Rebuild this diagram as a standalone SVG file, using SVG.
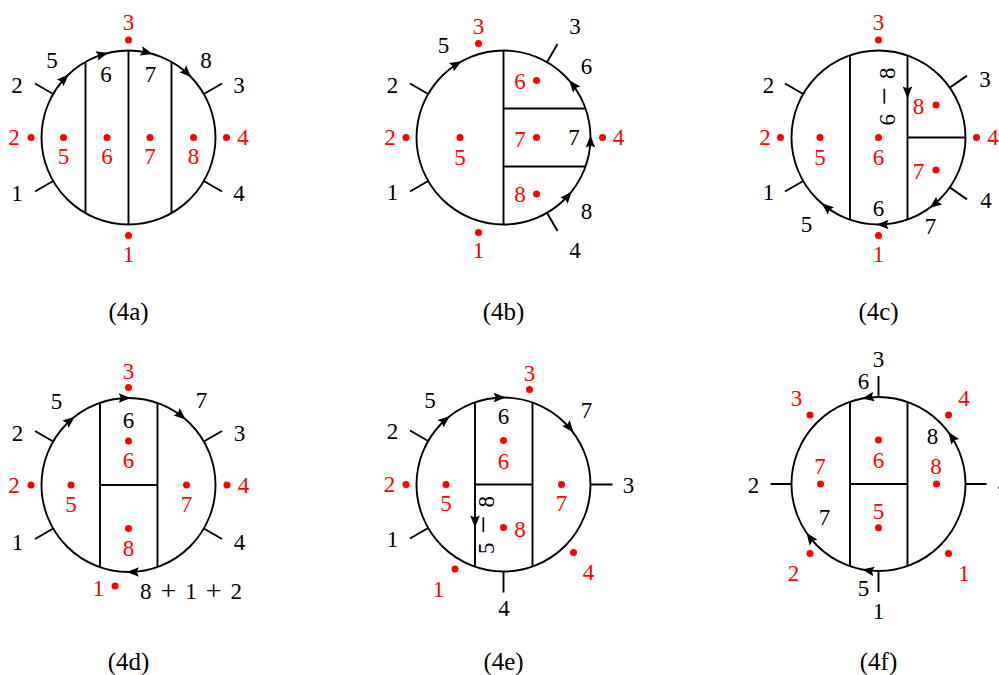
<svg xmlns="http://www.w3.org/2000/svg" width="999" height="675" viewBox="0 0 999 675" font-family="'Liberation Serif', 'Times New Roman', serif">
<style>
.ln{fill:none;stroke:#000;stroke-width:1.9}
text{font-family:"Liberation Serif","Times New Roman",serif;font-size:23px;text-anchor:middle}
.k{fill:#000}
.r{fill:#f00}
.cap{font-size:25px;fill:#000}
.op{font-size:32px}
.pl{font-size:28px}
</style>
<defs>
<path id="ah" d="M2,0 L-10,-4.8 L-8,0 L-10,4.8 Z" fill="#000"/>
<circle id="dt" r="3.5" fill="#f00"/>
</defs>
<rect width="999" height="675" fill="#fff"/>

<!-- 4a -->
<g id="d4a" transform="translate(128.5,137.5)">
  <g id="d4a-lines" class="ln">
    <circle r="87"/>
    <path d="M-43,-75.6V75.6M0,-87V87M43,-75.6V75.6"/>
    <path d="M-75.3,-43.5L-93.5,-54M-75.3,43.5L-93.5,54M75.3,-43.5L93.5,-54M75.3,43.5L93.5,54"/>
  </g>
  <g id="d4a-arrows">
    <use href="#ah" transform="translate(-61.3,-61.7) rotate(-44.8)"/>
    <use href="#ah" transform="translate(-22.2,-84.1) rotate(-14.8)"/>
    <use href="#ah" transform="translate(22.2,-84.1) rotate(14.8)"/>
    <use href="#ah" transform="translate(61.3,-61.7) rotate(44.8)"/>
  </g>
  <g id="d4a-dots">
    <use href="#dt" x="0" y="-97.5"/><use href="#dt" x="-97.5" y="0"/><use href="#dt" x="98" y="0"/><use href="#dt" x="0" y="98"/>
    <use href="#dt" x="-65" y="0"/><use href="#dt" x="-21.5" y="0"/><use href="#dt" x="21.5" y="0"/><use href="#dt" x="65" y="0"/>
  </g>
  <g id="d4a-labels">
    <text class="k" x="-111.5" y="-45">2</text><text class="k" x="-111.5" y="63">1</text>
    <text class="k" x="110.5" y="-45">3</text><text class="k" x="110.5" y="63">4</text>
    <text class="k" x="-76.5" y="-70">5</text><text class="k" x="-22.5" y="-56">6</text>
    <text class="k" x="22" y="-56">7</text><text class="k" x="77.5" y="-70">8</text>
    <text class="r" x="0" y="-107.5">3</text><text class="r" x="-114.5" y="7.5">2</text>
    <text class="r" x="114.5" y="7.5">4</text><text class="r" x="0" y="124">1</text>
    <text class="r" x="-65" y="26.5">5</text><text class="r" x="-21.5" y="26.5">6</text>
    <text class="r" x="21.5" y="26.5">7</text><text class="r" x="65" y="26.5">8</text>
  </g>
</g>

<!-- 4b -->
<g id="d4b" transform="translate(503.5,137.5)">
  <g id="d4b-lines" class="ln">
    <circle r="87"/>
    <path d="M0,-87V87M0,-29H82M0,29H82"/>
    <path d="M-75.3,-43.5L-93.5,-54M-75.3,43.5L-93.5,54M43.5,-75.3L54,-93.5M43.5,75.3L54,93.5"/>
  </g>
  <g id="d4b-arrows">
    <use href="#ah" transform="translate(-43.5,-75.3) rotate(-30)"/>
    <use href="#ah" transform="translate(66.9,-55.6) rotate(230.3)"/>
    <use href="#ah" transform="translate(87,0) rotate(270)"/>
    <use href="#ah" transform="translate(66.9,55.6) rotate(309.7)"/>
  </g>
  <g id="d4b-dots">
    <use href="#dt" x="-25" y="-94"/><use href="#dt" x="-97.5" y="0"/><use href="#dt" x="99" y="0"/><use href="#dt" x="-25" y="95"/>
    <use href="#dt" x="-43.5" y="0"/><use href="#dt" x="33" y="-57"/><use href="#dt" x="33" y="0"/><use href="#dt" x="33" y="56.5"/>
  </g>
  <g id="d4b-labels">
    <text class="k" x="-60" y="-85">5</text><text class="k" x="-111" y="-45">2</text>
    <text class="k" x="-111" y="62.5">1</text><text class="k" x="71.5" y="-103.5">3</text>
    <text class="k" x="83" y="-63.5">6</text><text class="k" x="70.5" y="7.5">7</text>
    <text class="k" x="83" y="81.5">8</text><text class="k" x="71.5" y="120">4</text>
    <text class="r" x="-25" y="-103.5">3</text><text class="r" x="-113.5" y="7.5">2</text>
    <text class="r" x="115" y="7.5">4</text><text class="r" x="-25" y="120.5">1</text>
    <text class="r" x="-43.5" y="27">5</text><text class="r" x="16.5" y="-48.5">6</text>
    <text class="r" x="16.5" y="9">7</text><text class="r" x="16.5" y="64.5">8</text>
  </g>
</g>

<!-- 4c -->
<g id="d4c" transform="translate(878.5,137.5)">
  <g id="d4c-lines" class="ln">
    <circle r="87"/>
    <path d="M-28.5,-82.2V82.2M29,-82V82M29,0H87"/>
    <path d="M-75.3,-43.5L-93.5,-54M-75.3,43.5L-93.5,54M71.3,-49.9L88.5,-61.9M71.3,49.9L88.5,61.9"/>
  </g>
  <g id="d4c-arrows">
    <use href="#ah" transform="translate(29,-41) rotate(90)"/>
    <use href="#ah" transform="translate(52.7,69.2) rotate(142.7)"/>
    <use href="#ah" transform="translate(0,87) rotate(180)"/>
    <use href="#ah" transform="translate(-55.3,67.1) rotate(219.5)"/>
  </g>
  <g id="d4c-dots">
    <use href="#dt" x="0" y="-97.5"/><use href="#dt" x="-98" y="0"/><use href="#dt" x="98" y="0"/><use href="#dt" x="0" y="98"/>
    <use href="#dt" x="-58.5" y="0"/><use href="#dt" x="0" y="0"/><use href="#dt" x="57.5" y="-32.5"/><use href="#dt" x="57.5" y="32.5"/>
  </g>
  <g id="d4c-labels">
    <text class="k" x="-110" y="-45">2</text><text class="k" x="-110" y="62.5">1</text>
    <text class="k" x="106.5" y="-50.5">3</text><text class="k" x="107.5" y="70">4</text>
    <text class="k" x="-72" y="94">5</text><text class="k" x="0" y="78.5">6</text>
    <text class="k" x="52" y="96.5">7</text>
    <text class="k" transform="translate(16.5,-41) rotate(-90)" textLength="58" lengthAdjust="spacing">6 <tspan class="op">−</tspan> 8</text>
    <text class="r" x="0" y="-107.5">3</text><text class="r" x="-113.5" y="7.5">2</text>
    <text class="r" x="114.5" y="7.5">4</text><text class="r" x="0" y="124">1</text>
    <text class="r" x="-58.5" y="27.5">5</text><text class="r" x="0" y="27.5">6</text>
    <text class="r" x="40" y="-23.5">8</text><text class="r" x="40" y="41.5">7</text>
  </g>
</g>

<!-- 4d -->
<g id="d4d" transform="translate(128.5,485)">
  <g id="d4d-lines" class="ln">
    <circle r="87"/>
    <path d="M-28.5,-82.2V82.2M29,-82V82M-28.5,0H29"/>
    <path d="M-75.3,-43.5L-93.5,-54M-75.3,43.5L-93.5,54M75.3,-43.5L93.5,-54M75.3,43.5L93.5,54"/>
  </g>
  <g id="d4d-arrows">
    <use href="#ah" transform="translate(-55.3,-67.1) rotate(-39.5)"/>
    <use href="#ah" transform="translate(0.3,-87) rotate(0.2)"/>
    <use href="#ah" transform="translate(55.7,-66.8) rotate(39.8)"/>
    <use href="#ah" transform="translate(0.3,87) rotate(179.8)"/>
  </g>
  <g id="d4d-dots">
    <use href="#dt" x="0" y="-97.5"/><use href="#dt" x="-97.5" y="0"/><use href="#dt" x="98.5" y="0"/><use href="#dt" x="-13.5" y="101"/>
    <use href="#dt" x="-57.5" y="0"/><use href="#dt" x="0" y="-44"/><use href="#dt" x="58" y="0"/><use href="#dt" x="0" y="43.5"/>
  </g>
  <g id="d4d-labels">
    <text class="k" x="-72" y="-76">5</text><text class="k" x="-111" y="-44.5">2</text>
    <text class="k" x="-111" y="64.5">1</text><text class="k" x="111" y="-44.5">3</text>
    <text class="k" x="111" y="64.5">4</text><text class="k" x="73" y="-77">7</text>
    <text class="k" x="0" y="-57.5">6</text>
    <text class="k" x="62.5" y="113.5" textLength="102" lengthAdjust="spacing">8 <tspan class="pl" dy="1.5">+</tspan><tspan dy="-1.5"> 1 </tspan><tspan class="pl" dy="1.5">+</tspan><tspan dy="-1.5"> 2</tspan></text>
    <text class="r" x="0" y="-106">3</text><text class="r" x="-114.5" y="7.5">2</text>
    <text class="r" x="115" y="7.5">4</text><text class="r" x="-30" y="110.5">1</text>
    <text class="r" x="-57.5" y="26.5">5</text><text class="r" x="0" y="-17.5">6</text>
    <text class="r" x="58" y="26.5">7</text><text class="r" x="0" y="70.5">8</text>
  </g>
</g>

<!-- 4e -->
<g id="d4e" transform="translate(503.5,484.5)">
  <g id="d4e-lines" class="ln">
    <circle r="87"/>
    <path d="M-28.5,-82.2V82.2M29,-82V82M-28.5,0H29"/>
    <path d="M-75.3,-43.5L-93.5,-54M-75.3,43.5L-93.5,54M87,0H109M0,87V108"/>
  </g>
  <g id="d4e-arrows">
    <use href="#ah" transform="translate(-28.5,41) rotate(90)"/>
    <use href="#ah" transform="translate(-55.3,-67.1) rotate(-39.5)"/>
    <use href="#ah" transform="translate(0.3,-87) rotate(0.2)"/>
    <use href="#ah" transform="translate(68.6,-53.6) rotate(52)"/>
  </g>
  <g id="d4e-dots">
    <use href="#dt" x="26" y="-95"/><use href="#dt" x="-97.5" y="0"/><use href="#dt" x="-48.5" y="84.5"/><use href="#dt" x="70" y="68"/>
    <use href="#dt" x="-57.5" y="0"/><use href="#dt" x="0" y="-44"/><use href="#dt" x="58" y="0"/><use href="#dt" x="0" y="43"/>
  </g>
  <g id="d4e-labels">
    <text class="k" x="-73.5" y="-77">5</text><text class="k" x="-111" y="-45.5">2</text>
    <text class="k" x="-111" y="62.5">1</text><text class="k" x="0" y="-60.5">6</text>
    <text class="k" x="83" y="-67">7</text><text class="k" x="125" y="8">3</text>
    <text class="k" x="0.5" y="131.5">4</text>
    <text class="k" transform="translate(-9.5,40.5) rotate(-90)" textLength="58" lengthAdjust="spacing">5 <tspan class="op">−</tspan> 8</text>
    <text class="r" x="26" y="-103.5">3</text><text class="r" x="-114" y="7.5">2</text>
    <text class="r" x="-65" y="112.5">1</text><text class="r" x="85" y="95.5">4</text>
    <text class="r" x="-57.5" y="26.5">5</text><text class="r" x="0" y="-16">6</text>
    <text class="r" x="58" y="26.5">7</text><text class="r" x="16.5" y="52.5">8</text>
  </g>
</g>

<!-- 4f -->
<g id="d4f" transform="translate(878.5,484)">
  <g id="d4f-lines" class="ln">
    <circle r="87"/>
    <path d="M-28.5,-82.2V82.2M29,-82V82M-28.5,0H29"/>
    <path d="M0,-87V-108M0,87V108M-87,0H-108M87,0H108"/>
  </g>
  <g id="d4f-arrows">
    <use href="#ah" transform="translate(-14.5,-85.8) rotate(170.4)"/>
    <use href="#ah" transform="translate(71,-50.3) rotate(234.7)"/>
    <use href="#ah" transform="translate(-70.8,50.5) rotate(-125.5)"/>
    <use href="#ah" transform="translate(-14.4,85.8) rotate(-170.5)"/>
  </g>
  <g id="d4f-dots">
    <use href="#dt" x="-68.5" y="-69"/><use href="#dt" x="70" y="-69"/><use href="#dt" x="-68.5" y="69.5"/><use href="#dt" x="70" y="69.5"/>
    <use href="#dt" x="-58" y="0"/><use href="#dt" x="0" y="-44"/><use href="#dt" x="58" y="0"/><use href="#dt" x="0" y="43.7"/>
  </g>
  <g id="d4f-labels">
    <text class="k" x="0" y="-117">3</text><text class="k" x="-15" y="-95">6</text>
    <text class="k" x="-125" y="8.5">2</text><text class="k" x="0" y="135">1</text>
    <text class="k" x="-15" y="111.5">5</text><text class="k" x="-54" y="41">7</text>
    <text class="k" x="54" y="-40">8</text><text class="k" x="125" y="7.5">4</text>
    <text class="r" x="-82" y="-78">3</text><text class="r" x="85.5" y="-78">4</text>
    <text class="r" x="-85" y="97">2</text><text class="r" x="85.5" y="97">1</text>
    <text class="r" x="-58.5" y="-10.5">7</text><text class="r" x="0" y="-16">6</text>
    <text class="r" x="57.5" y="-10.5">8</text><text class="r" x="0" y="34.5">5</text>
  </g>
</g>

<g id="captions">
  <text class="cap" x="128.5" y="320">(4a)</text>
  <text class="cap" x="503.5" y="320">(4b)</text>
  <text class="cap" x="878.5" y="320">(4c)</text>
  <text class="cap" x="128.5" y="670">(4d)</text>
  <text class="cap" x="503.5" y="670">(4e)</text>
  <text class="cap" x="878.5" y="670">(4f)</text>
</g>
</svg>
